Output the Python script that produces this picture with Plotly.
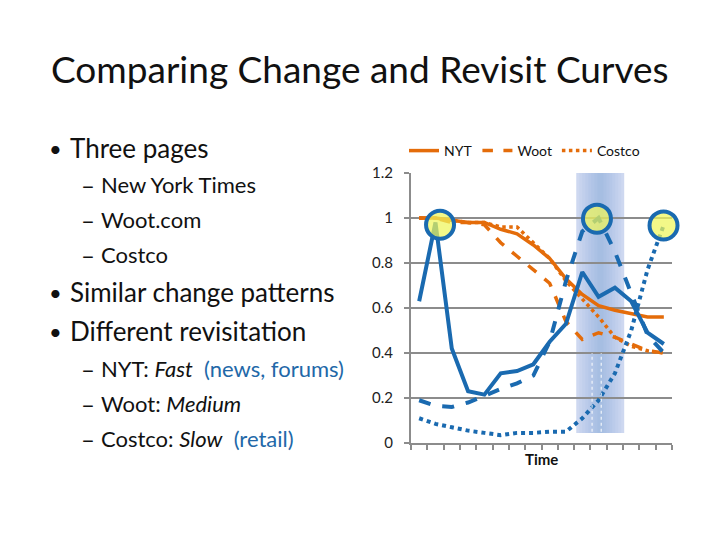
import plotly.graph_objects as go

# time steps (unlabelled category axis)
steps = list(range(1, 17))

# change curves (orange)
nyt_change = [1.00, 1.00, 0.99, 0.98, 0.98, 0.95, 0.93, 0.88, 0.82, 0.73, 0.66, 0.61, 0.59, 0.575, 0.56, 0.56]
woot_change = [1.00, 1.00, 0.98, 0.98, 0.97, 0.89, 0.83, 0.77, 0.71, 0.54, 0.46, 0.49, 0.47, 0.44, 0.41, 0.40]
costco_change = [1.00, 1.00, 0.99, 0.98, 0.98, 0.96, 0.96, 0.89, 0.82, 0.72, 0.64, 0.56, 0.47, 0.43, 0.41, 0.40]

# revisit curves (blue)
nyt_revisit = [0.63, 0.98, 0.42, 0.23, 0.215, 0.31, 0.32, 0.35, 0.45, 0.53, 0.76, 0.65, 0.69, 0.63, 0.49, 0.44]
woot_revisit = [0.19, 0.165, 0.16, 0.18, 0.21, 0.24, 0.265, 0.30, 0.45, 0.72, 0.94, 1.00, 0.85, 0.66, 0.48, 0.40]
costco_revisit = [0.11, 0.085, 0.07, 0.055, 0.045, 0.035, 0.045, 0.045, 0.05, 0.05, 0.11, 0.19, 0.31, 0.50, 0.77, 0.97]

# highlighted revisit peaks
peak_x = [2.28, 11.9, 15.98]
peak_y = [0.97, 0.997, 0.967]

y_ticks = [0, 0.2, 0.4, 0.6, 0.8, 1.0, 1.2]
y_tick_labels = ["0", "0.2", "0.4", "0.6", "0.8", "1", "1.2"]

band_x = [10.63, 13.57]
band_y = [0.045, 1.2]

ORANGE = "#E46C0A"
BLUE = "#1A6AB0"
TEXT_BLUE = "#2268A8"
FONT = "Lato"

W, H = 720, 540
L, R, T, B = 411, 48, 173, 97


def px(x, y):
    # slide pixel -> paper coords
    return (x - L) / (W - L - R), (H - B - y) / (H - T - B)


fig = go.Figure()

for name, vals, dash in [("NYT", nyt_change, "solid"),
                         ("Woot", woot_change, "dash"),
                         ("Costco", costco_change, "dot")]:
    fig.add_trace(go.Scatter(x=steps, y=vals, name=name, mode="lines",
                             line=dict(color=ORANGE, width=3.5, dash=dash)))

for name, vals, dash in [("NYT revisit", nyt_revisit, "solid"),
                         ("Woot revisit", woot_revisit, "dash"),
                         ("Costco revisit", costco_revisit, "dot")]:
    fig.add_trace(go.Scatter(x=steps, y=vals, name=name, mode="lines", showlegend=False,
                             line=dict(color=BLUE, width=4, dash=dash)))

fig.add_trace(go.Scatter(x=peak_x, y=peak_y, mode="markers", showlegend=False, cliponaxis=False,
                         marker=dict(size=28, color="rgba(238,245,90,0.72)",
                                     line=dict(color=BLUE, width=4))))

# shaded band: light base + narrower translucent layers -> darker middle
fig.add_shape(type="rect", layer="below", line_width=0,
              x0=band_x[0], x1=band_x[1], y0=band_y[0], y1=band_y[1],
              fillcolor="rgb(206,216,240)")
mid = (band_x[0] + band_x[1]) / 2
half = (band_x[1] - band_x[0]) / 2
for k in range(1, 8):
    h = half * (1 - k / 8)
    fig.add_shape(type="rect", layer="below", line_width=0,
                  x0=mid - h, x1=mid + h, y0=band_y[0], y1=band_y[1],
                  fillcolor="rgba(120,150,215,0.07)")
for xv in [11.6, 12.16]:
    fig.add_shape(type="line", x0=xv, x1=xv, y0=0.05, y1=0.40,
                  line=dict(color="white", width=1, dash="dot"))

fig.update_layout(
    width=W, height=H,
    margin=dict(l=L, r=R, t=T, b=B),
    paper_bgcolor="white", plot_bgcolor="rgba(0,0,0,0)",
    font=dict(family=FONT, color="#222"),
    legend=dict(orientation="h", x=px(404, 0)[0], y=px(0, 135)[1],
                xanchor="left", yanchor="top", font=dict(size=14, color="#111"),
                bgcolor="rgba(0,0,0,0)", itemwidth=30, tracegroupgap=0),
)
fig.update_xaxes(range=[0.5, 16.5], showgrid=False, zeroline=False,
                 showline=True, linecolor="#8c8c8c", linewidth=2,
                 tickvals=[s - 0.5 for s in steps] + [16.5], showticklabels=False,
                 ticks="outside", ticklen=5, tickwidth=1.5, tickcolor="#8c8c8c")
fig.update_yaxes(range=[0, 1.2], tickvals=y_ticks, ticktext=y_tick_labels,
                 showgrid=True, gridcolor="#8c8c8c", gridwidth=1.5, zeroline=False,
                 showline=True, linecolor="#8c8c8c", linewidth=2,
                 ticks="outside", ticklen=5, tickwidth=1.5, tickcolor="#8c8c8c",
                 tickfont=dict(size=15, color="#222"), ticklabelstandoff=8)

anns = []


def text(x, y, s, size, anchor="left", color="#111"):
    xp, yp = px(x, y)
    anns.append(dict(x=xp, y=yp, xref="paper", yref="paper", text=s, showarrow=False,
                     xanchor=anchor, yanchor="middle", font=dict(size=size, color=color)))


text(360, 68, "Comparing Change and Revisit Curves", 37, "center")
text(541, 459, "<b>Time</b>", 15, "center")

bullets = [(148, "Three pages"), (292, "Similar change patterns"), (331, "Different revisitation")]
for y, s in bullets:
    text(47, y, "•", 22)
    text(68, y, s, 26)

subs = [(184, "New York Times"), (219, "Woot.com"), (254, "Costco"),
        (368, "NYT: <i>Fast</i>  <span style='color:%s'>(news, forums)</span>" % TEXT_BLUE),
        (403, "Woot: <i>Medium</i>"),
        (438, "Costco: <i>Slow</i>  <span style='color:%s'>(retail)</span>" % TEXT_BLUE)]
for y, s in subs:
    text(79, y, "–", 24)
    text(99, y, s, 22)

fig.update_layout(annotations=anns)
fig.write_html("out.html", config={"displayModeBar": False},
               post_script="document.body.style.margin='0';")
